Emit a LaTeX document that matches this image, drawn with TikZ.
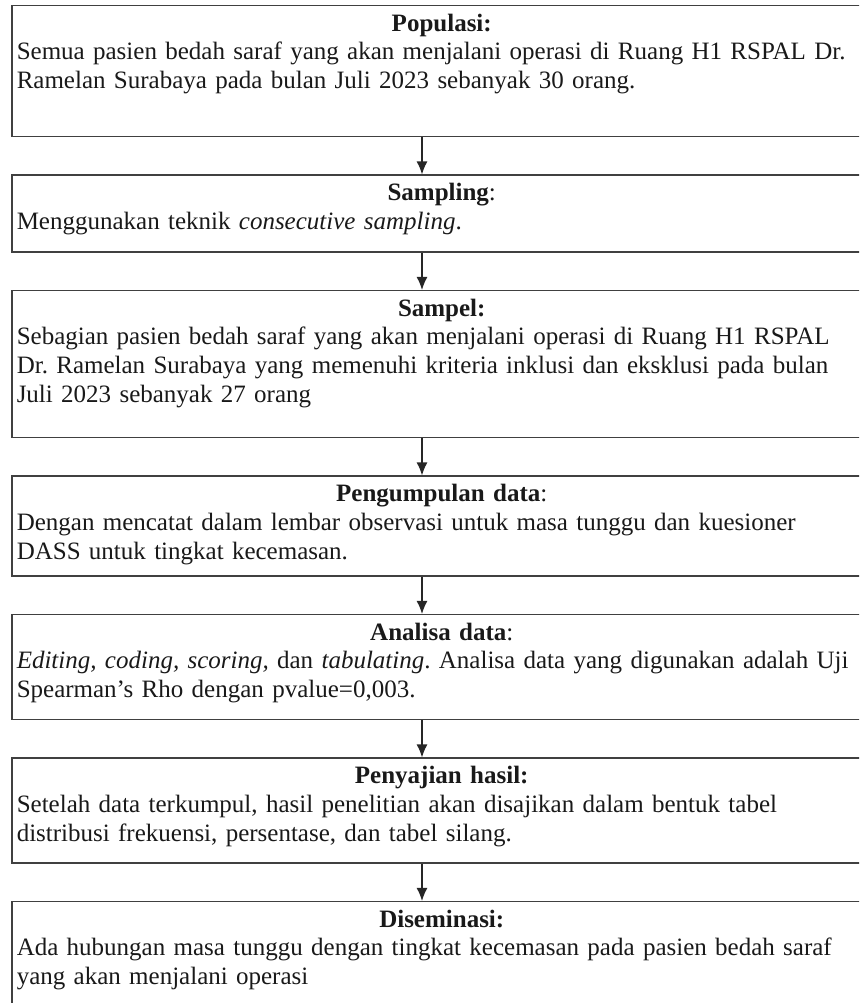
\documentclass[tikz,border=0pt]{standalone}
\usepackage{fontspec}
\setmainfont{Liberation Serif}
\frenchspacing
\usetikzlibrary{arrows.meta, positioning}

\begin{document}
\begin{tikzpicture}[
        x=1pt, y=1pt,
        node distance=37pt,
        >={Latex[length=13pt,width=11pt]},
        block/.style={
            rectangle,
            draw=black!75,
            line width=1.5pt,
            text=black!90,
            text width=880pt,
            inner xsep=5pt,
            inner ysep=7.5pt,
            text height=18pt,
            align=left,
            font=\fontsize{25pt}{28.7pt}\selectfont
        },
        link/.style={->, draw=black!85, line width=1.5pt}
    ]
    
    % Frame (the boxes run past the right and bottom edges)
    \useasboundingbox (0,0) rectangle (859,1003);
    \clip (0,0) rectangle (859,1003);
    \coordinate (spine) at (422,0);
    
    % Nodes
    \node[block, text depth=98pt, anchor=north west] (populasi) at (11,998)
        {\makebox[850pt]{\textbf{Populasi:}}\\Semua pasien bedah saraf yang akan menjalani operasi di Ruang H1 RSPAL Dr.\\Ramelan Surabaya pada bulan Juli 2023 sebanyak 30 orang.};
    \node[block, text depth=44pt, below=of populasi] (sampling)
        {\makebox[850pt]{\textbf{Sampling}:}\\Menggunakan teknik \textit{consecutive sampling}.};
    \node[block, text depth=114pt, below=of sampling] (sampel)
        {\makebox[850pt]{\textbf{Sampel:}}\\Sebagian pasien bedah saraf yang akan menjalani operasi di Ruang H1 RSPAL\\Dr. Ramelan Surabaya yang memenuhi kriteria inklusi dan eksklusi pada bulan\\Juli 2023 sebanyak 27 orang};
    \node[block, text depth=67pt, below=of sampel] (pengumpulan)
        {\makebox[850pt]{\textbf{Pengumpulan data}:}\\Dengan mencatat dalam lembar observasi untuk masa tunggu dan kuesioner\\DASS untuk tingkat kecemasan.};
    \node[block, text depth=72pt, below=of pengumpulan] (analisa)
        {\makebox[850pt]{\textbf{Analisa data}:}\\\textit{Editing, coding, scoring,} dan \textit{tabulating}. Analisa data yang digunakan adalah Uji\\Spearman’s Rho dengan pvalue=0,003.};
    \node[block, text depth=72pt, below=of analisa] (penyajian)
        {\makebox[850pt]{\textbf{Penyajian hasil:}}\\Setelah data terkumpul, hasil penelitian akan disajikan dalam bentuk tabel\\distribusi frekuensi, persentase, dan tabel silang.};
    \node[block, text depth=97pt, below=of penyajian] (diseminasi)
        {\makebox[850pt]{\textbf{Diseminasi:}}\\Ada hubungan masa tunggu dengan tingkat kecemasan pada pasien bedah saraf\\yang akan menjalani operasi};
    
    % Arrows
    \draw[link] (populasi.south -| spine) -- (sampling.north -| spine);
    \draw[link] (sampling.south -| spine) -- (sampel.north -| spine);
    \draw[link] (sampel.south -| spine) -- (pengumpulan.north -| spine);
    \draw[link] (pengumpulan.south -| spine) -- (analisa.north -| spine);
    \draw[link] (analisa.south -| spine) -- (penyajian.north -| spine);
    \draw[link] (penyajian.south -| spine) -- (diseminasi.north -| spine);
    
\end{tikzpicture}
\end{document}
